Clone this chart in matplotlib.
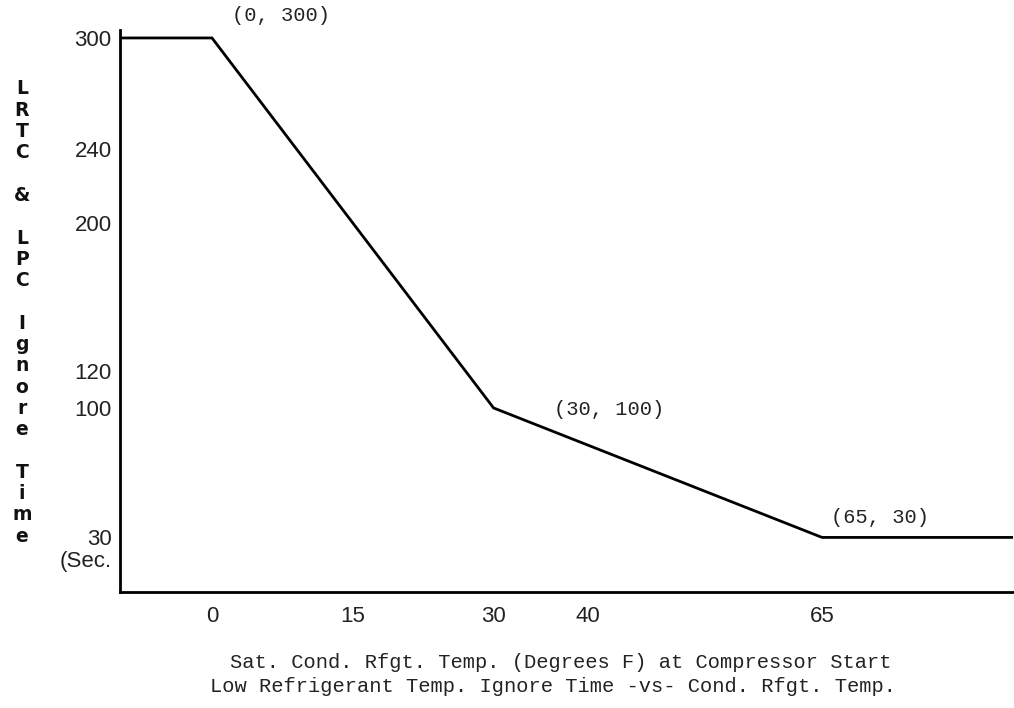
import matplotlib
matplotlib.use("Agg")
import matplotlib.pyplot as plt

# Data
temp_f = [-9.8, 0, 30, 65, 85.2]
ignore_time = [300, 300, 100, 30, 30]
x_ticks = [0, 15, 30, 40, 65]
y_ticks = [30, 100, 120, 200, 240, 300]
annotations = [((0, 300), "(0, 300)"), ((30, 100), "(30, 100)"), ((65, 30), "(65, 30)")]
y_label = "LRTC & LPC Ignore Time"
x_label_1 = "Sat. Cond. Rfgt. Temp. (Degrees F) at Compressor Start"
x_label_2 = "Low Refrigerant Temp. Ignore Time -vs- Cond. Rfgt. Temp."

W, H = 1014, 708
fig = plt.figure(figsize=(W / 100, H / 100), dpi=100)
ax = fig.add_axes([120 / W, 1 - 592 / H, 1 - 120 / W, (592 - 30) / H])

ax.plot(temp_f, ignore_time, color="black", lw=2.0, solid_joinstyle="miter")
ax.set_xlim(-9.8, 85.45)
ax.set_ylim(0.5, 304.3)

for s in ["top", "right"]:
    ax.spines[s].set_visible(False)
for s in ["left", "bottom"]:
    ax.spines[s].set_linewidth(2.0)

tick_font = dict(family=["Liberation Sans", "DejaVu Sans"], size=16, color="#222222")
ax.set_xticks(x_ticks)
ax.set_xticklabels([str(v) for v in x_ticks], **tick_font)
ax.set_yticks(y_ticks)
ax.set_yticklabels([str(v) for v in y_ticks], **tick_font)
ax.tick_params(axis="both", length=0)
ax.tick_params(axis="y", pad=6)
ax.tick_params(axis="x", pad=10)

mono = dict(family=["Liberation Mono", "DejaVu Sans Mono"], size=14.7, color="#222222")
offsets = {"(0, 300)": (69, 22), "(30, 100)": (116, -2), "(65, 30)": (58, 20)}
for (xy, txt) in annotations:
    dx, dy = offsets[txt]
    ax.annotate(txt, xy=xy, xytext=(dx, dy), textcoords="offset pixels",
                ha="center", va="center", **mono)

# "(Sec." under the 30 tick label
fig.text(112 / W, 1 - 562 / H, "(Sec.", ha="right", va="center", **tick_font)

# Vertical stacked y label
y0 = 89
dy = 21.3
for i, ch in enumerate(y_label):
    if ch == " ":
        continue
    fig.text(22 / W, 1 - (y0 + i * dy) / H, ch, ha="center", va="center",
             family=["DejaVu Sans"], size=13.5, weight="bold", color="#111111")

fig.text(561 / W, 1 - 663 / H, x_label_1, ha="center", va="center", **mono)
fig.text(553 / W, 1 - 687 / H, x_label_2, ha="center", va="center", **mono)

fig.savefig("out.png", dpi=100)
